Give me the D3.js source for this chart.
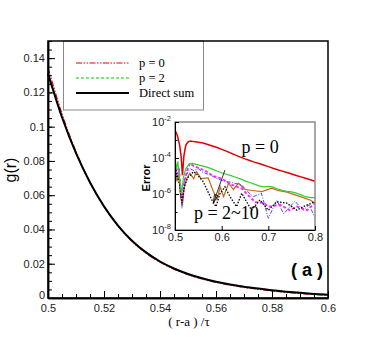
<!DOCTYPE html>
<html>
<head>
<meta charset="utf-8">
<script src="https://cdn.jsdelivr.net/npm/d3@7"></script>
<style>
  body { margin: 0; background: #fff; }
  svg { display: block; }
</style>
</head>
<body>
<div id="chart"></div>
<script>
// main plot: g(r) vs (r-a)/tau
const gX = [0.500, 0.505, 0.510, 0.515, 0.520, 0.525, 0.530, 0.535, 0.540, 0.545, 0.550,
  0.555, 0.560, 0.565, 0.570, 0.575, 0.580, 0.585, 0.590, 0.595, 0.600];
const gDirect = [0.131, 0.1055, 0.0845, 0.0674, 0.0535, 0.0423, 0.0334, 0.0266, 0.0213, 0.0172, 0.0140,
  0.0115, 0.0095, 0.0079, 0.0066, 0.0055, 0.0045, 0.0037, 0.0030, 0.0024, 0.0019];
const gP0 = [0.1345, 0.1075, 0.0855, 0.0677, 0.0534, 0.0420, 0.0330, 0.0262, 0.0209, 0.0168, 0.0136,
  0.0111, 0.0091, 0.0075, 0.0062, 0.0051, 0.0041, 0.0033, 0.0026, 0.0020, 0.0015];
const gP2 = [0.1312, 0.1057, 0.0846, 0.0674, 0.0535, 0.0423, 0.0334, 0.0266, 0.0213, 0.0172, 0.0140,
  0.0115, 0.0095, 0.0079, 0.0066, 0.0055, 0.0045, 0.0037, 0.0030, 0.0024, 0.0019];

const xTicks = [0.5, 0.52, 0.54, 0.56, 0.58, 0.6];
const xTickLabels = ["0.5", "0.52", "0.54", "0.56", "0.58", "0.6"];
const yTicks = [0, 0.02, 0.04, 0.06, 0.08, 0.1, 0.12, 0.14];
const yTickLabels = ["0", "0.02", "0.04", "0.06", "0.08", "0.1", "0.12", "0.14"];

const legendLabels = ["p = 0", "p = 2", "Direct sum"];

// inset: error (log10) vs (r-a)/tau, [x, log10(error)]
const errP0 = [[0.500, -2.45], [0.505, -2.75], [0.510, -3.3], [0.513, -3.9], [0.516, -4.95], [0.519, -3.9],
  [0.523, -3.3], [0.528, -3.1], [0.533, -3.06], [0.54, -3.09], [0.55, -3.12], [0.56, -3.17], [0.57, -3.25],
  [0.58, -3.33], [0.59, -3.42], [0.60, -3.52], [0.61, -3.62], [0.62, -3.73], [0.63, -3.84], [0.64, -3.95],
  [0.65, -4.05], [0.66, -4.14], [0.67, -4.23], [0.68, -4.31], [0.69, -4.39], [0.70, -4.48], [0.71, -4.57],
  [0.72, -4.65], [0.73, -4.73], [0.74, -4.81], [0.75, -4.89], [0.76, -4.97], [0.77, -5.05], [0.78, -5.13],
  [0.79, -5.21], [0.80, -5.30]];
const errGreen = [[0.500, -3.9], [0.503, -4.6], [0.506, -4.2], [0.510, -5.2], [0.514, -6.0], [0.518, -5.1],
  [0.523, -4.6], [0.530, -4.35], [0.537, -4.3], [0.545, -4.35], [0.56, -4.45], [0.57, -4.52], [0.58, -4.62],
  [0.59, -4.72], [0.60, -4.82], [0.61, -4.90], [0.62, -4.98], [0.63, -5.07], [0.64, -5.16], [0.65, -5.27],
  [0.66, -5.36], [0.67, -5.45], [0.68, -5.55], [0.69, -5.6], [0.70, -5.58], [0.71, -5.62], [0.72, -5.72],
  [0.73, -5.8], [0.74, -5.85], [0.75, -5.88], [0.76, -5.95], [0.77, -6.05], [0.78, -6.15], [0.79, -6.2],
  [0.80, -6.2]];
const errBrown = [[0.500, -4.6], [0.504, -5.3], [0.508, -4.9], [0.512, -6.2], [0.516, -6.6], [0.520, -5.6],
  [0.526, -5.1], [0.532, -4.85], [0.540, -5.15], [0.546, -4.75], [0.556, -5.15], [0.571, -5.1], [0.582, -5.85],
  [0.590, -6.3], [0.597, -5.6], [0.604, -6.15], [0.615, -5.4], [0.625, -5.75], [0.636, -5.4], [0.65, -5.75],
  [0.67, -5.82], [0.686, -5.87], [0.707, -5.68], [0.72, -5.8], [0.74, -5.9], [0.757, -6.05], [0.775, -6.2],
  [0.79, -6.35], [0.80, -6.5]];
const errBlue = [[0.500, -4.4], [0.504, -5.0], [0.508, -4.7], [0.512, -5.8], [0.515, -6.8], [0.518, -5.5],
  [0.522, -5.1], [0.528, -4.75], [0.533, -4.6], [0.54, -4.7], [0.55, -4.6], [0.56, -4.8], [0.571, -4.9],
  [0.58, -5.0], [0.59, -5.15], [0.607, -5.3], [0.62, -5.35], [0.643, -5.5], [0.655, -5.85], [0.668, -6.15],
  [0.685, -5.95], [0.70, -7.35], [0.718, -6.35], [0.733, -7.1], [0.757, -6.4], [0.775, -6.9], [0.787, -6.6],
  [0.80, -7.3]];
const errMagenta = [[0.500, -4.3], [0.504, -4.9], [0.508, -4.5], [0.512, -5.6], [0.516, -6.3], [0.520, -5.3],
  [0.526, -4.7], [0.532, -4.3], [0.54, -4.45], [0.55, -4.55], [0.56, -4.65], [0.571, -4.8], [0.581, -5.0],
  [0.595, -5.1], [0.607, -5.25], [0.618, -5.45], [0.643, -5.7], [0.656, -6.05], [0.672, -6.45], [0.69, -6.5],
  [0.70, -6.7], [0.725, -6.6], [0.746, -6.9], [0.761, -6.7], [0.783, -6.9], [0.80, -6.5]];
const errBlack = [[0.500, -4.5], [0.505, -5.0], [0.510, -5.5], [0.515, -6.5], [0.520, -5.6], [0.527, -5.1],
  [0.532, -5.0], [0.539, -4.76], [0.545, -4.85], [0.55, -5.0], [0.56, -5.3], [0.579, -6.33], [0.588, -6.7],
  [0.596, -6.0], [0.607, -5.6], [0.618, -6.15], [0.632, -6.7], [0.643, -5.96], [0.664, -6.9], [0.682, -6.33],
  [0.70, -6.9], [0.718, -6.43], [0.739, -6.5], [0.761, -6.9], [0.775, -6.7], [0.80, -6.43]];

const insetXTicks = [0.5, 0.6, 0.7, 0.8];
const insetXTickLabels = ["0.5", "0.6", "0.7", "0.8"];
const insetYExps = [-2, -4, -6, -8];

const width = 374;
const height = 337;
const sans = "'Liberation Sans', Arial, sans-serif";
const serif = "'Liberation Serif', 'Times New Roman', serif";

const svg = d3.select("#chart").append("svg")
  .attr("width", width)
  .attr("height", height);

const xScale = d3.scaleLinear().domain([0.5, 0.6]).range([48, 328]);
const yScale = d3.scaleLinear().domain([0, 0.15]).range([298, 41]);

// curves
const line = d3.line()
  .x((d) => xScale(d[0]))
  .y((d) => yScale(d[1]))
  .curve(d3.curveMonotoneX);

svg.append("path")
  .attr("d", line(gX.map((x, i) => [x, gP0[i]])))
  .attr("fill", "none").attr("stroke", "#e00000").attr("stroke-width", 1.2)
  .attr("stroke-dasharray", "6,1.5,1.5,1.5,1.5,1.5");
svg.append("path")
  .attr("d", line(gX.map((x, i) => [x, gP2[i]])))
  .attr("fill", "none").attr("stroke", "#00d000").attr("stroke-width", 1.2)
  .attr("stroke-dasharray", "3,2");
svg.append("path")
  .attr("d", line(gX.map((x, i) => [x, gDirect[i]])))
  .attr("fill", "none").attr("stroke", "#000").attr("stroke-width", 2);

// legend box
const legend = svg.append("g");
legend.append("rect")
  .attr("x", 63.5).attr("y", 41).attr("width", 140).attr("height", 69)
  .attr("fill", "#fff").attr("stroke", "#8a8a8a").attr("stroke-width", 1);
const legendStyles = [
  { color: "#e00000", dash: "6,1.5,1.5,1.5,1.5,1.5", w: 1.2 },
  { color: "#00d000", dash: "3,2", w: 1.2 },
  { color: "#000", dash: null, w: 2 },
];
legendLabels.forEach((label, i) => {
  const yy = 63 + i * 15;
  legend.append("line")
    .attr("x1", 76).attr("x2", 129).attr("y1", yy).attr("y2", yy)
    .attr("stroke", legendStyles[i].color)
    .attr("stroke-width", legendStyles[i].w)
    .attr("stroke-dasharray", legendStyles[i].dash);
  legend.append("text")
    .attr("x", 139).attr("y", yy + 4)
    .attr("font-family", serif).attr("font-size", 12.5)
    .text(label);
});

// frame
svg.append("rect")
  .attr("x", 48).attr("y", 41).attr("width", 280).attr("height", 257)
  .attr("fill", "none").attr("stroke", "#000").attr("stroke-width", 1.5);

// axes
const xAxis = svg.append("g")
  .attr("transform", "translate(0,298)")
  .call(d3.axisBottom(xScale).tickValues(xTicks)
    .tickFormat((d, i) => xTickLabels[i]).tickSizeInner(-7).tickSizeOuter(0).tickPadding(6));
svg.append("g")
  .attr("transform", "translate(0,298)")
  .call(d3.axisBottom(xScale).tickValues(d3.range(0.5, 0.6001, 0.005))
    .tickFormat("").tickSizeInner(-4).tickSizeOuter(0));
const yAxis = svg.append("g")
  .attr("transform", "translate(48,0)")
  .call(d3.axisLeft(yScale).tickValues(yTicks)
    .tickFormat((d, i) => yTickLabels[i]).tickSizeInner(-7).tickSizeOuter(0).tickPadding(3));
svg.append("g")
  .attr("transform", "translate(48,0)")
  .call(d3.axisLeft(yScale).tickValues(d3.range(0, 0.1501, 0.005))
    .tickFormat("").tickSizeInner(-4).tickSizeOuter(0));

svg.selectAll(".domain").attr("stroke-width", 1.5);
svg.selectAll(".tick line").attr("stroke-width", 1);
svg.selectAll(".tick text")
  .attr("font-family", sans).attr("font-size", 11).attr("fill", "#222");
// lift the "0" label a little so it clears the x labels
yAxis.selectAll(".tick text").filter((d) => d === 0).attr("dy", "0.05em");

svg.append("text")
  .attr("transform", "translate(16,170) rotate(-90)")
  .attr("text-anchor", "middle")
  .attr("font-family", sans).attr("font-size", 16)
  .text("g(r)");
svg.append("text")
  .attr("x", 189).attr("y", 326)
  .attr("text-anchor", "middle")
  .attr("font-family", serif).attr("font-size", 13)
  .text("( r-a ) /τ");
svg.append("text")
  .attr("x", 323).attr("y", 276)
  .attr("text-anchor", "end")
  .attr("font-family", sans).attr("font-size", 18).attr("font-weight", "bold")
  .text("( a )");

// inset
const xi = d3.scaleLinear().domain([0.5, 0.8]).range([175, 315]);
const yi = d3.scaleLog().domain([1e-8, 1e-2]).range([230, 122]);
const inset = svg.append("g");
inset.append("rect")
  .attr("x", 175).attr("y", 122).attr("width", 140).attr("height", 108)
  .attr("fill", "#fff");
inset.append("clipPath").attr("id", "insetClip")
  .append("rect").attr("x", 175).attr("y", 122).attr("width", 140).attr("height", 108);

const lineI = d3.line()
  .x((d) => xi(d[0]))
  .y((d) => yi(Math.pow(10, d[1])));

const insetSeries = [
  { data: errBrown, color: "#c06a1a", dash: null, w: 1.2 },
  { data: errBlue, color: "#4050ff", dash: "4,1.5,1,1.5", w: 1 },
  { data: errMagenta, color: "#ff20ff", dash: "3,2", w: 1.8 },
  { data: errBlack, color: "#000", dash: "1.5,1.5", w: 1.3 },
  { data: errGreen, color: "#30d030", dash: null, w: 1.2 },
  { data: errP0, color: "#e00000", dash: null, w: 1.5 },
];
const curves = inset.append("g").attr("clip-path", "url(#insetClip)");
insetSeries.forEach((s) => {
  curves.append("path")
    .attr("d", lineI(s.data))
    .attr("fill", "none")
    .attr("stroke", s.color)
    .attr("stroke-width", s.w)
    .attr("stroke-dasharray", s.dash);
});

inset.append("rect")
  .attr("x", 175).attr("y", 122).attr("width", 140).attr("height", 108)
  .attr("fill", "none").attr("stroke", "#8a8a8a").attr("stroke-width", 1.5);

const ixAxis = inset.append("g")
  .attr("transform", "translate(0,230)")
  .call(d3.axisBottom(xi).tickValues(insetXTicks)
    .tickFormat((d, i) => insetXTickLabels[i]).tickSizeInner(-4).tickSizeOuter(0).tickPadding(3));
const iyAxis = inset.append("g")
  .attr("transform", "translate(175,0)")
  .call(d3.axisLeft(yi).tickValues(d3.range(-8, -1).map((e) => Math.pow(10, e)))
    .tickFormat("").tickSizeInner(-3).tickSizeOuter(0));
iyAxis.selectAll(".tick line")
  .attr("x2", (d) => (insetYExps.includes(Math.round(Math.log10(d))) ? 4 : 2.5));
inset.selectAll(".domain").attr("stroke", "#000").attr("stroke-width", 1);
inset.selectAll(".tick text")
  .attr("font-family", sans).attr("font-size", 11).attr("fill", "#222");

insetYExps.forEach((e) => {
  const t = inset.append("text")
    .attr("x", 171).attr("y", yi(Math.pow(10, e)) + 4)
    .attr("text-anchor", "end")
    .attr("font-family", sans).attr("font-size", 11).attr("fill", "#222");
  t.append("tspan").text("10");
  t.append("tspan").attr("dy", -5).attr("font-size", 7.5).text(String(e));
});
inset.append("text")
  .attr("transform", "translate(150,178) rotate(-90)")
  .attr("text-anchor", "middle")
  .attr("font-family", sans).attr("font-size", 11).attr("font-weight", "bold")
  .text("Error");

inset.append("text")
  .attr("x", xi(0.6425)).attr("y", 153)
  .attr("font-family", serif).attr("font-size", 18)
  .text("p = 0");
// arrow pointing down to the p = 2~10 curves
const arrowStart = [0.607, -4.67];
const arrowTip = [0.582, -6.52];
const ax1 = xi(arrowStart[0]), ay1 = yi(Math.pow(10, arrowStart[1]));
const ax2 = xi(arrowTip[0]), ay2 = yi(Math.pow(10, arrowTip[1]));
inset.append("line")
  .attr("x1", ax1).attr("y1", ay1).attr("x2", ax2).attr("y2", ay2)
  .attr("stroke", "#000").attr("stroke-width", 0.8);
const ang = Math.atan2(ay2 - ay1, ax2 - ax1);
const headLen = 9, headW = 0.2;
inset.append("path")
  .attr("d", `M${ax2},${ay2}L${ax2 - headLen * Math.cos(ang - headW)},${ay2 - headLen * Math.sin(ang - headW)}`
    + `L${ax2 - headLen * Math.cos(ang + headW)},${ay2 - headLen * Math.sin(ang + headW)}Z`)
  .attr("fill", "none").attr("stroke", "#000").attr("stroke-width", 0.8);
inset.append("text")
  .attr("x", xi(0.5405)).attr("y", 219)
  .attr("font-family", serif).attr("font-size", 18)
  .text("p = 2~10");
</script>
</body>
</html>
